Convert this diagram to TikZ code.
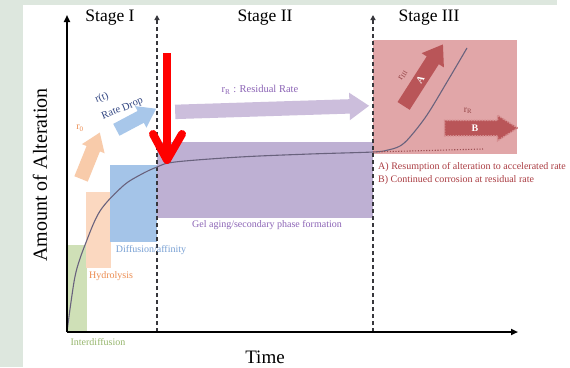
\documentclass[tikz,border=0pt]{standalone}
\usepackage{fontspec}
\setmainfont{Liberation Serif}
\usetikzlibrary{arrows.meta,shapes.arrows}
\definecolor{bgstrip}{RGB}{221,231,222}
\definecolor{gbox}{RGB}{207,224,183}
\definecolor{gtext}{RGB}{150,182,108}
\definecolor{pbox}{RGB}{251,216,192}
\definecolor{ptext}{RGB}{236,140,80}
\definecolor{parrow}{RGB}{248,203,170}
\definecolor{bbox}{RGB}{164,196,232}
\definecolor{btext}{RGB}{120,160,212}
\definecolor{barrow}{RGB}{168,199,234}
\definecolor{bdark}{RGB}{50,70,130}
\definecolor{ubox}{RGB}{190,176,211}
\definecolor{utext}{RGB}{140,100,182}
\definecolor{uarrow}{RGB}{204,190,220}
\definecolor{rbox}{RGB}{225,166,168}
\definecolor{rdark}{RGB}{185,85,88}
\definecolor{rtext}{RGB}{170,60,66}
\definecolor{curvec}{RGB}{105,98,125}
\definecolor{dashgray}{RGB}{55,55,60}
\tikzset{
  lbl/.style={font=\fontsize{10}{12}\selectfont, inner sep=0pt},
  stagelbl/.style={font=\fontsize{17.5}{20}\selectfont, inner sep=0pt},
  fat/.style={single arrow, inner sep=0pt, anchor=center, single arrow tip angle=70},
  shaft/.style={text height=#1/2, text depth=#1/2},
  axisline/.style={line width=1.8pt, -{Triangle[length=7pt,width=6pt]}},
  stageline/.style={line width=1.4pt, dash pattern=on 4pt off 3pt, draw=dashgray, -{Triangle[length=5pt,width=5pt]}},
}
\begin{document}
\begin{tikzpicture}[x=1pt,y=-1pt]
\useasboundingbox (0,0) rectangle (570,367);
\fill[white] (0,0) rectangle (570,367);
\fill[bgstrip] (0,0) rectangle (23,367);
\fill[bgstrip] (23,0) rectangle (557,5);

% phase boxes
\fill[gbox] (67,245) rectangle (87,332);
\fill[pbox] (86,192) rectangle (111,268);
\fill[bbox] (110,165) rectangle (157,242);
\fill[ubox] (157,142) rectangle (373,218);
\fill[rbox] (373,40) rectangle (517,154);

% coordinates
\coordinate (O) at (67,332);
\coordinate (ytop) at (67,15);
\coordinate (xend) at (518,332);
\coordinate (d1b) at (157,332);
\coordinate (d1t) at (157,15);
\coordinate (d2b) at (373,332);
\coordinate (d2t) at (373,15);

% stage lines
\draw[stageline] (d1b) -- (d1t);
\draw[stageline] (d2b) -- (d2t);

% curve
\draw[curvec, line width=1.1pt] plot[smooth, tension=0.55] coordinates {(67,332) (71,302) (76,272) (85,245) (100,211) (123,186) (140,175) (157,167) (175,162) (240,157) (310,154) (373,152) (388,150) (400,146) (410,137) (427,115) (447,82) (467,48)};
\coordinate (dotA) at (373,152);
\coordinate (dotB) at (483,149);
\draw[rtext!70!gray, line width=1.1pt, dash pattern=on 1.2pt off 1.6pt] (dotA) -- (dotB);

% axes
\draw[axisline] (O) -- (ytop);
\draw[axisline] (O) -- (xend);

% stage labels
\node[stagelbl] (s1) at (110,18) {Stage I};
\node[stagelbl] (s2) at (265,18) {Stage II};
\node[stagelbl] (s3) at (429,18) {Stage III};

\node[font=\fontsize{20}{22}\selectfont, rotate=90, inner sep=0pt] (ylab) at (40,175) {Amount of Alteration};
\node[font=\fontsize{19}{21}\selectfont, inner sep=0pt] (xlab) at (265,357) {Time};

% box labels
\node[lbl, text=gtext] (tint) at (98,342) {Interdiffusion};
\node[lbl, text=ptext] (thyd) at (111,276) {Hydrolysis};
\node[lbl, text=btext] (tdif) at (151,250) {Diffusion/affinity};
\node[lbl, text=utext] (tgel) at (267,225) {Gel aging/secondary phase formation};
\node[lbl, text=rtext, anchor=west] (tA) at (378,167) {A) Resumption of alteration to accelerated rate};
\node[lbl, text=rtext, anchor=west] (tB) at (378,180) {B) Continued corrosion at residual rate};

% rate arrows
\node[fat, fill=parrow, shaft=14pt, minimum height=50pt, single arrow head extend=5pt, rotate=68] (ar0) at (88.5,160.5) {};
\node[lbl, text=ptext] (lr0) at (80,128) {r\textsubscript{0}};

\node[fat, fill=barrow, shaft=13pt, minimum height=45pt, single arrow head extend=5.5pt, rotate=28] (art) at (132,121.5) {};
\node[lbl, text=bdark, font=\fontsize{10.5}{12}\selectfont, rotate=22] (lrt) at (102,98) {r(t)};
\node[lbl, text=bdark, font=\fontsize{10.5}{12}\selectfont, rotate=22] (lrd) at (122.5,109) {Rate Drop};

\node[fat, fill=uarrow, shaft=14pt, minimum height=194pt, single arrow head extend=6.5pt, rotate=1.8] (arr) at (267,109) {};
\node[lbl, text=utext, font=\fontsize{10.5}{12}\selectfont] (lrr) at (260,90) {r\textsubscript{R} : Residual Rate};

% stage III arrows
\node[fat, fill=rdark, text height=10pt, text depth=4pt, minimum height=73pt, single arrow head extend=6pt, rotate=57.4, text=white, font=\bfseries\fontsize{10}{12}\selectfont] (aA) at (420.5,79.5) {A};
\node[lbl, text=rdark!80!black, font=\fontsize{9.5}{11}\selectfont, rotate=57.4] (lrIII) at (403,75) {r\textsubscript{III}};

\node[fat, fill=rdark, draw=rbox!70!rdark, line width=1.5pt, dash pattern=on 1.5pt off 1.2pt, single arrow tip angle=65, text height=10pt, text depth=4pt, minimum height=73pt, single arrow head extend=5pt, text=white, font=\bfseries\fontsize{10}{12}\selectfont] (aB) at (475,128) {B};
\node[lbl, text=rdark!80!black, font=\fontsize{9.5}{11}\selectfont] (lrRB) at (468,111) {r\textsubscript{R}};

% red marker arrow
\coordinate (rtop) at (167,53);
\coordinate (rtip) at (167,160);
\coordinate (rl) at (153,134);
\coordinate (rr) at (182,134);
\draw[red, line width=8pt] (rtop) -- (rtip);
\draw[red, line width=8pt, line cap=round, line join=round] (rl) -- (rtip) -- (rr);
\end{tikzpicture}
\end{document}
